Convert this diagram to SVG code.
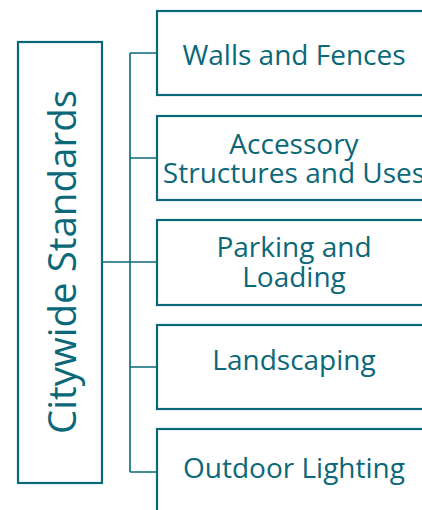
<svg xmlns="http://www.w3.org/2000/svg" width="422" height="510" viewBox="0 0 422 510">
<style>
.box{fill:#fff;stroke:#0b6878;stroke-width:2.2}
.lbl{font-family:"Open Sans","Noto Sans",sans-serif;font-size:28px;fill:#0b6878;text-anchor:middle}
.big{font-family:"Open Sans","Noto Sans",sans-serif;font-size:38.5px;fill:#0b6878;text-anchor:middle}
.conn{fill:none;stroke:#0b6878;stroke-width:1.6}
</style>
<rect width="422" height="510" fill="#fff"/>
<g id="connectors">
<path class="conn" d="M102 262H130M130 53V472M130 53H157M130 158H157M130 262H157M130 367H157M130 472H157"/>
</g>
<g id="citywide">
<rect class="box" x="18" y="42" width="84" height="441"/>
<text class="big" transform="translate(76 262) rotate(-90)">Citywide Standards</text>
</g>
<g id="walls">
<rect class="box" x="157" y="11" width="274" height="84"/>
<text class="lbl" x="294" y="65">Walls and Fences</text>
</g>
<g id="accessory">
<rect class="box" x="157" y="116" width="274" height="84"/>
<text class="lbl" x="294" y="154">Accessory</text>
<text class="lbl" x="294" y="183">Structures and Uses</text>
</g>
<g id="parking">
<rect class="box" x="157" y="220" width="274" height="85"/>
<text class="lbl" x="294" y="257">Parking and</text>
<text class="lbl" x="294" y="287">Loading</text>
</g>
<g id="landscaping">
<rect class="box" x="157" y="325" width="274" height="84"/>
<text class="lbl" x="294" y="370">Landscaping</text>
</g>
<g id="lighting">
<rect class="box" x="157" y="429" width="274" height="84"/>
<text class="lbl" x="294" y="478">Outdoor Lighting</text>
</g>
</svg>
